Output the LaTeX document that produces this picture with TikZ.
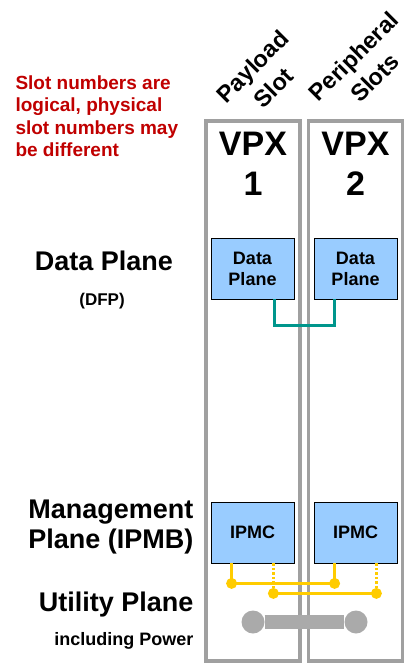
\documentclass[tikz,border=0pt]{standalone}
\usepackage{fontspec}
\setmainfont{Liberation Sans}
\definecolor{slotgray}{RGB}{160,160,160}
\definecolor{boxblue}{RGB}{153,204,255}
\definecolor{notered}{RGB}{192,0,0}
\definecolor{dfpteal}{RGB}{0,150,140}
\definecolor{ipmbyellow}{RGB}{255,204,0}
\definecolor{powergray}{RGB}{170,170,170}
\tikzset{slot/.style={draw=slotgray, line width=3.5pt, minimum width=94pt, minimum height=540pt, inner sep=0pt}}
\tikzset{card/.style={draw, fill=boxblue, line width=0.8pt, minimum width=83pt, minimum height=61pt, inner sep=0pt, align=center, font=\bfseries\fontsize{18}{21}\selectfont}}
\tikzset{vpx/.style={align=center, font=\bfseries\fontsize{34}{40}\selectfont}}
\tikzset{slotname/.style={rotate=45, align=center, inner sep=1pt, font=\bfseries\fontsize{23.5}{30}\selectfont}}
\tikzset{note/.style={anchor=base west, align=left, text=notered, font=\bfseries\fontsize{19}{22.5}\selectfont}}
\tikzset{plane/.style={anchor=base east, font=\bfseries\fontsize{27}{32}\selectfont}}
\tikzset{sub/.style={anchor=base east, font=\bfseries\fontsize{18}{21}\selectfont}}
\tikzset{dfp/.style={line width=3pt, draw=dfpteal}}
\tikzset{ipmb/.style={line width=2.5pt, draw=ipmbyellow}}
\tikzset{pin/.style={circle, fill=ipmbyellow, minimum size=11pt, inner sep=0pt}}
\tikzset{power/.style={line width=14pt, draw=powergray}}
\tikzset{plug/.style={circle, fill=powergray, minimum size=23pt, inner sep=0pt}}

\begin{document}
\begin{tikzpicture}[x=1pt, y=-1pt]
\useasboundingbox (0,0) rectangle (405,663);
\node[slot] (s1) at (253,391) {};
\node[slot] (s2) at (355.5,391) {};
\node[slotname] (n1) at (263,77) {Payload\\Slot};
\node[slotname] (n2) at (364,67) {Peripheral\\Slots};
\node[note] (note) at (12,157) {Slot numbers are\\logical, physical\\slot numbers may\\be different};
\node[vpx] (v1) at (253,164) {VPX\\1};
\node[vpx] (v2) at (355.5,164) {VPX\\2};
\node[card] (dp1) at (252.5,268.5) {Data\\Plane};
\node[card] (dp2) at (355.5,268.5) {Data\\Plane};
\node[card] (ip1) at (252.5,532.5) {IPMC};
\node[card] (ip2) at (355.5,532.5) {IPMC};
\node[font=\bfseries\fontsize{27}{32}\selectfont] (dpl) at (104,261) {Data Plane};
\node[font=\bfseries\fontsize{17}{20}\selectfont] (dfpl) at (102,301) {(DFP)};
\node[plane] (mgl) at (197,518) {Management};
\node[plane] (mgl2) at (197,548) {Plane (IPMB)};
\node[plane] (utl) at (197,611) {Utility Plane};
\node[sub] (pwl) at (197,645) {including Power};
\draw[dfp] ([xshift=-20pt]dp1.south east) -- ++(0,26) -| ([xshift=21pt]dp2.south west);
\coordinate (a1) at ([xshift=21pt]ip1.south west);
\coordinate (a2) at ([xshift=21pt]ip2.south west);
\coordinate (b1) at ([xshift=-21pt]ip1.south east);
\coordinate (b2) at ([xshift=-21pt]ip2.south east);
\node[pin] (pa1) at ([yshift=-20pt]a1) {};
\node[pin] (pa2) at ([yshift=-20pt]a2) {};
\node[pin] (pb1) at ([yshift=-30pt]b1) {};
\node[pin] (pb2) at ([yshift=-30pt]b2) {};
\draw[ipmb] (a1) -- (pa1.center) -- (pa2.center) -- (a2);
\draw[ipmb, dash pattern=on 2.5pt off 2pt] (b1) -- (pb1.center);
\draw[ipmb, dash pattern=on 2.5pt off 2pt] (b2) -- (pb2.center);
\draw[ipmb] (pb1.center) -- (pb2.center);
\node[plug] (pw1) at (253,622) {};
\node[plug] (pw2) at (356,622) {};
\draw[power] (pw1) -- (pw2);
\end{tikzpicture}
\end{document}
